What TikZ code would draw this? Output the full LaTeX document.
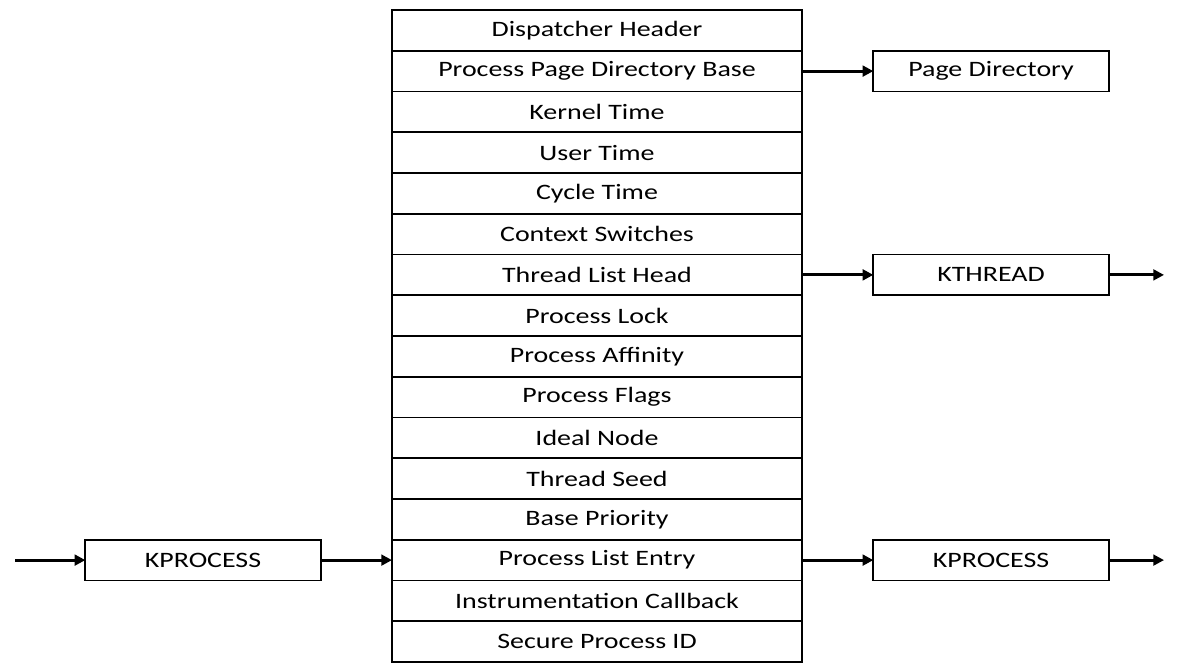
\documentclass[tikz,border=0pt]{standalone}
\usepackage{fontspec}
\setmainfont[FakeStretch=1.27]{Carlito}
\usetikzlibrary{arrows.meta}
\begin{document}
\begin{tikzpicture}[x=0.75pt,y=-0.75pt]

    \tikzstyle{field}=[rectangle,draw=black,line width=1.4pt,minimum width=307.5pt,minimum height=30.56pt,inner sep=0pt,outer sep=0pt,font=\fontsize{16.5}{19}\selectfont]
    \tikzstyle{object}=[field,minimum width=176.5pt]
    \tikzstyle{link}=[line width=2.2pt,-{Triangle[length=8pt,width=8pt]}]

    \useasboundingbox (0,0) rectangle (1181,666);

    \node[field] (dispatcher) at (597,30.4)  {Dispatcher Header};
    \node[field] (pagebase)   at (597,71.1)  {Process Page Directory Base};
    \node[field] (kernel)     at (597,111.9) {Kernel Time};
    \node[field] (user)       at (597,152.6) {User Time};
    \node[field] (cycle)      at (597,193.4) {Cycle Time};
    \node[field] (switches)   at (597,234.1) {Context Switches};
    \node[field] (threadhead) at (597,274.9) {Thread List Head};
    \node[field] (lock)       at (597,315.6) {Process Lock};
    \node[field] (affinity)   at (597,356.4) {Process Affinity};
    \node[field] (flags)      at (597,397.1) {Process Flags};
    \node[field] (ideal)      at (597,437.9) {Ideal Node};
    \node[field] (seed)       at (597,478.6) {Thread Seed};
    \node[field] (priority)   at (597,519.4) {Base Priority};
    \node[field] (listentry)  at (597,560.1) {Process List Entry};
    \node[field] (callback)   at (597,600.9) {Instrumentation Callback};
    \node[field] (secureid)   at (597,641.6) {Secure Process ID};

    \node[object] (pagedir)  at (991,71.1)  {Page Directory};
    \node[object] (kthread)  at (991,274.9) {KTHREAD};
    \node[object] (nextproc) at (991,560.1) {KPROCESS};
    \node[object] (prevproc) at (203,560.1) {KPROCESS};

    \coordinate (prevstart) at (15,560.1);
    \coordinate (threadend) at (1164,274.9);
    \coordinate (nextend)   at (1164,560.1);

    \draw[link] (pagebase)  -- (pagedir);
    \draw[link] (threadhead) -- (kthread);
    \draw[link] (kthread)   -- (threadend);
    \draw[link] (listentry) -- (nextproc);
    \draw[link] (nextproc)  -- (nextend);
    \draw[link] (prevstart) -- (prevproc);
    \draw[link] (prevproc)  -- (listentry);

\end{tikzpicture}
\end{document}
